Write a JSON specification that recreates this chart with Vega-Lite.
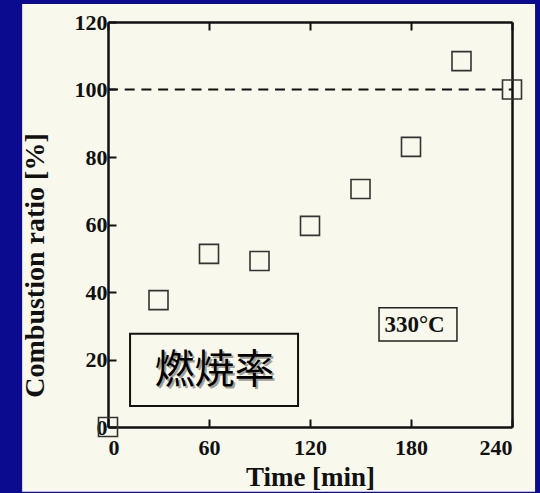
{
  "$schema": "https://vega.github.io/schema/vega-lite/v6.json",
  "width": 404,
  "height": 405,
  "autosize": {"type": "none"},
  "padding": {"left": 108, "top": 22, "right": 28, "bottom": 66},
  "background": "#f8f8ec",
  "datasets": {
    "combustion": [
      {"time": 0, "ratio": 0},
      {"time": 30, "ratio": 37.6},
      {"time": 60, "ratio": 51.3},
      {"time": 90, "ratio": 49.2},
      {"time": 120, "ratio": 59.6},
      {"time": 150, "ratio": 70.5},
      {"time": 180, "ratio": 83.0},
      {"time": 210, "ratio": 108.4},
      {"time": 240, "ratio": 100}
    ],
    "one": [{"label": "燃焼率", "temp": "330°C"}]
  },
  "layer": [
    {
      "data": {"name": "one"},
      "mark": {"type": "rect", "fill": "#0b0b8f", "clip": false},
      "encoding": {
        "x": {"datum": -80, "type": "quantitative", "scale": {"domain": [0, 240], "nice": false, "zero": false}, "axis": null},
        "x2": {"datum": -51},
        "y": {"datum": 140, "type": "quantitative", "scale": {"domain": [0, 120], "nice": false, "zero": false}, "axis": null},
        "y2": {"datum": -30}
      }
    },
    {
      "data": {"name": "one"},
      "mark": {"type": "rect", "fill": "#0b0b8f", "clip": false},
      "encoding": {
        "x": {"datum": 253.7, "type": "quantitative", "scale": {"domain": [0, 240], "nice": false, "zero": false}, "axis": null},
        "x2": {"datum": 270},
        "y": {"datum": 140, "type": "quantitative", "scale": {"domain": [0, 120], "nice": false, "zero": false}, "axis": null},
        "y2": {"datum": -30}
      }
    },
    {
      "data": {"name": "one"},
      "mark": {"type": "rect", "fill": "#0b0b8f", "clip": false},
      "encoding": {
        "x": {"datum": -80, "type": "quantitative", "scale": {"domain": [0, 240], "nice": false, "zero": false}, "axis": null},
        "x2": {"datum": 270},
        "y": {"datum": 140, "type": "quantitative", "scale": {"domain": [0, 120], "nice": false, "zero": false}, "axis": null},
        "y2": {"datum": 125.3}
      }
    },
    {
      "data": {"name": "one"},
      "mark": {"type": "rect", "fill": "#0b0b8f", "clip": false},
      "encoding": {
        "x": {"datum": -80, "type": "quantitative", "scale": {"domain": [0, 240], "nice": false, "zero": false}, "axis": null},
        "x2": {"datum": 270},
        "y": {"datum": -19.2, "type": "quantitative", "scale": {"domain": [0, 120], "nice": false, "zero": false}, "axis": null},
        "y2": {"datum": -30}
      }
    },
    {
      "data": {"name": "one"},
      "mark": {"type": "rule", "stroke": "#111", "strokeWidth": 2, "strokeDash": [10, 6.7]},
      "encoding": {
        "x": {"datum": 0, "type": "quantitative", "scale": {"domain": [0, 240], "nice": false, "zero": false},
          "axis": {"orient": "top", "values": [0, 60, 120, 180, 240], "labels": false, "ticks": true, "title": null}},
        "x2": {"datum": 240},
        "y": {"datum": 100, "type": "quantitative", "scale": {"domain": [0, 120], "nice": false, "zero": false},
          "axis": {"orient": "right", "labels": false, "ticks": false, "title": null}}
      }
    },
    {
      "data": {"name": "combustion"},
      "mark": {"type": "point", "shape": "square", "size": 361, "filled": false, "stroke": "#333", "strokeWidth": 1.6, "opacity": 1, "clip": false},
      "encoding": {
        "x": {"field": "time", "type": "quantitative", "scale": {"domain": [0, 240], "nice": false, "zero": false},
          "axis": {"orient": "bottom", "values": [0, 60, 120, 180, 240], "title": "Time [min]", "labelPadding": 18, "titlePadding": 6, "titleFontSize": 27}},
        "y": {"field": "ratio", "type": "quantitative", "scale": {"domain": [0, 120], "nice": false, "zero": false},
          "axis": {"orient": "left", "values": [0, 20, 40, 60, 80, 100, 120], "title": "Combustion ratio [%]", "labelPadding": 9,
            "titleAngle": 270, "titleAlign": "center", "titleBaseline": "middle", "titleX": -73, "titleY": 243, "titleFontSize": 28}}
      }
    },
    {
      "data": {"name": "one"},
      "mark": {"type": "rect", "fill": "transparent", "stroke": "#111", "strokeWidth": 2},
      "encoding": {
        "x": {"datum": 13.1, "type": "quantitative", "scale": {"domain": [0, 240], "nice": false, "zero": false}, "axis": null},
        "x2": {"datum": 112.9},
        "y": {"datum": 27.6, "type": "quantitative", "scale": {"domain": [0, 120], "nice": false, "zero": false}, "axis": null},
        "y2": {"datum": 6.2}
      }
    },
    {
      "data": {"name": "one"},
      "mark": {"type": "rect", "fill": "transparent", "stroke": "#222", "strokeWidth": 1.5},
      "encoding": {
        "x": {"datum": 161, "type": "quantitative", "scale": {"domain": [0, 240], "nice": false, "zero": false}, "axis": null},
        "x2": {"datum": 207.3},
        "y": {"datum": 35.3, "type": "quantitative", "scale": {"domain": [0, 120], "nice": false, "zero": false}, "axis": null},
        "y2": {"datum": 25.5}
      }
    },
    {
      "data": {"name": "one"},
      "mark": {"type": "text", "font": "Noto Sans CJK JP", "fontSize": 40, "fill": "#a0a098", "dx": 2, "dy": 2, "align": "center", "baseline": "middle"},
      "encoding": {
        "x": {"datum": 63.3, "type": "quantitative", "scale": {"domain": [0, 240], "nice": false, "zero": false}, "axis": null},
        "y": {"datum": 16.6, "type": "quantitative", "scale": {"domain": [0, 120], "nice": false, "zero": false}, "axis": null},
        "text": {"field": "label"}
      }
    },
    {
      "data": {"name": "one"},
      "mark": {"type": "text", "font": "Noto Sans CJK JP", "fontSize": 40, "fill": "#000", "align": "center", "baseline": "middle"},
      "encoding": {
        "x": {"datum": 63.3, "type": "quantitative", "scale": {"domain": [0, 240], "nice": false, "zero": false}, "axis": null},
        "y": {"datum": 16.6, "type": "quantitative", "scale": {"domain": [0, 120], "nice": false, "zero": false}, "axis": null},
        "text": {"field": "label"}
      }
    },
    {
      "data": {"name": "one"},
      "mark": {"type": "text", "font": "Liberation Serif", "fontWeight": "bold", "fontSize": 23, "fill": "#111", "align": "center", "baseline": "middle"},
      "encoding": {
        "x": {"datum": 182.1, "type": "quantitative", "scale": {"domain": [0, 240], "nice": false, "zero": false}, "axis": null},
        "y": {"datum": 30.2, "type": "quantitative", "scale": {"domain": [0, 120], "nice": false, "zero": false}, "axis": null},
        "text": {"field": "temp"}
      }
    }
  ],
  "resolve": {"axis": {"x": "independent", "y": "independent"}},
  "config": {
    "view": {"stroke": null},
    "axis": {
      "labelFont": "Liberation Serif", "labelFontWeight": "bold", "labelFontSize": 22, "labelColor": "#111",
      "titleFont": "Liberation Serif", "titleFontWeight": "bold", "titleFontSize": 26, "titleColor": "#111",
      "domainColor": "#111", "domainWidth": 2.5, "tickColor": "#111", "tickWidth": 2, "tickSize": -8,
      "grid": false, "zindex": 1
    }
  }
}
